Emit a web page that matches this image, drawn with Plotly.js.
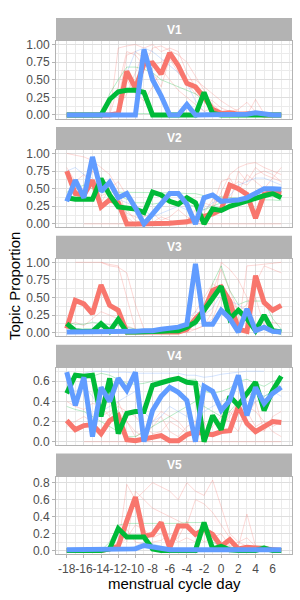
<!DOCTYPE html>
<html><head><meta charset="utf-8">
<script src="https://cdn.plot.ly/plotly-3.0.1.min.js"></script>
<style>html,body{margin:0;padding:0;background:#fff;} #chart{width:300px;height:600px;}</style>
</head><body><div id="chart"></div>
<script>
const days = [-18,-17,-16,-15,-14,-13,-12,-11,-10,-9,-8,-7,-6,-5,-4,-3,-2,-1,0,1,2,3,4,5,6,7];
const xTickVals = [-18,-16,-14,-12,-10,-8,-6,-4,-2,0,2,4,6];
const xTickText = ["-18","-16","-14","-12","-10","-8","-6","-4","-2","0","2","4","6"];
const panelNames = ["V1","V2","V3","V4","V5"];
const xTitle = "menstrual cycle day";
const yTitle = "Topic Proportion";

// ---- V1 ----
const V1_red   = [0,0,0,0,0,0,0.02,0.62,0.38,0.72,0.74,0.58,0.88,0.7,0.45,0.4,0.25,0.08,0.02,0.03,0.01,0.02,0.02,0,0,0];
const V1_green = [0,0,0,0,0,0.22,0.33,0.35,0.35,0.32,0,0,0,0,0,0,0.32,0.02,0,0,0,0,0,0.01,0,0];
const V1_blue  = [0,0,0,0,0,0,0,0,0,0.93,0.5,0.27,0,0,0.15,0,0,0,0,0,0,0.01,0.03,0.01,0,0];
const V1_thinRed = [
  [null,null,null,null,null,0,0.95,0.98,1.0,0.95,1.0,0.9,0.95,0.9,0.6,0.4,0.3,0.15,0.05,0.02,0,null,null,null,null,null],
  [null,null,null,null,null,0,0.4,0.9,0.85,0.7,0.95,0.98,0.92,0.85,0.75,0.55,0.35,0.1,0.05,0,0,0,null,null,null,null],
  [null,null,null,null,null,null,0.1,0.3,0.6,0.9,0.6,0.4,0.8,0.6,0.45,0.3,0.25,0.2,0.1,0.05,0.08,0.18,0.05,0,null,null],
  [null,null,null,null,null,null,0.05,0.5,0.3,0.2,0.4,0.65,0.5,0.35,0.25,0.15,0.05,0.1,0.02,0,0,0,0.22,0.02,0,0],
  [null,null,null,null,null,null,0.2,0.85,0.9,0.8,0.7,0.75,0.85,0.65,0.5,0.5,0.4,0.3,0.2,0.12,0.05,0.02,null,null,null,null]
];
const V1_thinGreen = [
  [null,null,null,null,0,0.3,0.5,0.68,0.68,0.65,0.6,0.5,0.45,0.4,0.35,0.3,0.2,0.05,0,null,null,null,null,null,null,null],
  [null,null,null,null,null,null,null,null,0.02,0.02,0.02,0.02,0.02,0,0,0,0,0,0,0,0,0,0,0.02,0.01,0]
];
const V1_thinBlue = [
  [null,null,null,null,null,null,0,0.6,0.9,0.95,0.9,0.8,0.7,0.6,0.45,0.2,0.05,0,null,null,null,null,null,null,null,null]
];

// ---- V2 ----
const V2_red   = [0.75,0.43,0.41,0.62,0.24,0.34,0.3,0,0,0,0,0.01,0.01,0.02,0.03,0.07,0.1,0.14,0.2,0.55,0.5,0.42,0.08,0.42,0.45,0.43];
const V2_green = [0.37,0.35,0.35,0.35,0.64,0.41,0.24,0.23,0.21,0.16,0.45,0.41,0.32,0.28,0.37,0.3,0,0.21,0.19,0.25,0.29,0.32,0.37,0.4,0.43,0.37];
const V2_blue  = [0.32,0.62,0.37,0.95,0.46,0.59,0.37,0.43,0.23,0,0.14,0.28,0.43,0.43,0.28,0,0.37,0.41,0.32,0.33,0.34,0.37,0.43,0.5,0.5,0.49];
const V2_thinRed = [
  [1.0,0.98,0.95,0.9,0.8,0.7,0.5,0.1,0,0,0,0,0,0,0,0.02,0.05,0.2,0.45,0.7,0.8,0.85,0.87,0.8,0.75,0.7],
  [0.4,0.45,0.5,0.75,0.6,0.55,0.35,0.2,0.05,0,0,0,0,0,0.05,0.1,0.3,0.25,0.6,0.65,0.45,0.7,0.6,0.5,0.65,0.8],
  [null,null,0,0,0,0,0,0,0,0,0,0,0,0,0,0,0,0,0,0,0,0,0,0,0,0],
  [null,null,null,null,0.3,0.5,0.6,0.4,0.2,0.1,0.15,0.05,0.1,0.2,0.1,0.05,0.15,0.35,0.3,0.5,0.6,0.55,0.7,0.75,0.7,0.6],
  [0.8,0.6,0.7,0.55,0.4,0.45,0.3,0.15,0.1,0.05,0.02,0.1,0.05,0,0.05,0.2,0.1,0.25,0.4,0.3,0.75,0.6,0.8,0.7,0.65,0.6]
];
const V2_thinGreen = [
  [0.45,0.5,0.55,0.5,0.45,0.45,0.45,0.45,0.45,0.45,0.45,0.45,0.44,0.44,0.43,0.43,0.4,0.4,0.38,0.37,0.36,0.35,0.35,0.34,0.34,0.33],
  [null,null,null,null,0.6,0.55,0.4,0.35,0.3,0.3,0.28,0.3,0.32,0.3,0.28,0.25,0.2,0.25,0.3,0.3,0.32,0.35,0.4,0.42,0.45,0.4]
];
const V2_thinBlue = [
  [0.75,0.8,0.7,0.65,0.5,0.4,0.35,0.3,0.25,0.2,0.1,0.15,0.2,0.25,0.2,0.1,0.2,0.3,0.35,0.4,0.55,0.6,0.65,0.65,0.6,0.55]
];

// ---- V3 ----
const V3_red   = [0.06,0.46,0.41,0.27,0.68,0.39,0.32,0.01,0.01,0.01,0.02,0.02,0.01,0.01,0.05,0.2,0.32,0.6,0.65,0.45,0.05,0.02,0.81,0.43,0.32,0.39];
const V3_green = [0.13,0.03,0.02,0.02,0.13,0.02,0.19,0.01,0.01,0.01,0.02,0.02,0.03,0.03,0.08,0.15,0.32,0.48,0.66,0.2,0.32,0.2,0.03,0.25,0.03,0.01];
const V3_blue  = [0.01,0.01,0.01,0.01,0.01,0.01,0.01,0.02,0.02,0.03,0.03,0.05,0.07,0.08,0.12,0.98,0.12,0.12,0.32,0.2,0.01,0.34,0.03,0.08,0.02,0.01];
const V3_thinRed = [
  [null,1.0,1.0,1.0,1.0,0.97,0.95,0.5,0.05,0,0,0,0,0,0,0.05,0.1,0.3,1.0,0.9,0.75,0.5,0.1,0.05,0.02,0],
  [null,null,null,null,1.0,0.95,0.93,0.85,0.4,0.05,0.02,0.02,0.02,0.02,0.05,0.05,0.1,0.2,0.5,0.3,0.05,0.95,0.96,0.97,0.98,1.0],
  [null,null,null,null,null,null,null,null,0,0,0,0,0.02,0.05,0.1,0.2,0.2,0.6,0.9,0.6,0.3,0.15,0.5,0.1,0.15,0.12],
  [0.1,0.15,0.1,0.2,0.3,0.25,0.2,0.1,0.05,0.02,0.02,0.03,0.05,0.05,0.1,0.3,0.5,0.7,0.6,0.5,0.3,0.4,0.7,0.95,0.9,0.85]
];
const V3_thinGreen = [
  [0.15,0.12,0.12,0.15,0.13,0.12,0.1,0.08,0.05,0.05,0.06,0.07,0.08,0.08,0.1,0.1,0.3,0.7,0.95,0.6,0.4,0.45,0.45,0.45,0.2,0.05]
];
const V3_thinBlue = [
  [null,null,null,null,null,null,null,null,null,null,null,null,null,null,0.2,0.3,0.25,0.35,0.55,0.45,0.4,0.3,0.1,0.05,0.03,0.02]
];

// ---- V4 ----
const V4_red   = [0.21,0.12,0.16,0.17,0.08,0.21,0.26,0.02,0.01,0.03,0.04,0.06,0.01,0.01,0.07,0.1,0.08,0.07,0.1,0.11,0.35,0.18,0.1,0.15,0.2,0.19];
const V4_green = [0.48,0.66,0.65,0.66,0.25,0.63,0.08,0.28,0.3,0.3,0.56,0.59,0.61,0.63,0.59,0.58,0,0.26,0.12,0.45,0.36,0.48,0.59,0.31,0.51,0.65];
const V4_blue  = [0.69,0.36,0.64,0.05,0.54,0.4,0.63,0.51,0.69,0,0.31,0.45,0.54,0.49,0.41,0,0.55,0.5,0.31,0.41,0.66,0.26,0.54,0.38,0.48,0.54];
const V4_thinRed = [
  [null,null,0,0,0,0,0,0,0,0,0,0,0,0,0,0,0,0,0,0,0,0,0,0,0,0],
  [0.4,0.35,0.32,0.38,0.36,0.4,0.3,0.2,0.1,0.05,0.15,0.25,0.1,0.05,0.15,0.2,0.1,0.2,0.15,0.25,0.4,0.3,0.15,0.2,0.1,0.05],
  [null,null,null,null,0.25,0.3,0.35,0.3,0.25,0.15,0.08,0.1,0.2,0.15,0.08,0.12,0.2,0.05,0.1,0.3,0.2,0.25,0.4,0.1,0.25,0.3],
  [0.15,0.2,0.25,0.2,0.35,0.25,0.4,0.2,0.05,0.1,0.2,0.3,0.25,0.2,0.1,0.05,0.08,0.15,0.25,0.2,0.1,0.35,0.3,0.2,0.15,0.2]
];
const V4_thinGreen = [
  [null,null,0.63,0.65,0.68,0.66,0.62,0.58,0.57,0.58,0.6,0.61,0.62,0.62,0.62,0.62,0.5,0.48,0.5,0.53,0.6,0.62,0.58,0.55,0.6,0.62],
  [0.35,0.32,0.3,0.25,0.2,0.15,0.1,0.05,0.05,0.1,0.15,0.2,0.25,0.3,0.35,0.4,0.35,0.3,0.25,0.3,0.4,0.45,0.5,0.45,0.5,0.55]
];
const V4_thinBlue = [
  [null,null,0.68,0.7,0.7,0.69,0.69,0.69,0.68,0.68,0.68,0.68,0.68,0.68,0.66,0.66,0.64,0.65,0.67,0.68,0.69,0.7,0.7,0.7,null,null],
  [0.6,0.5,0.55,0.45,0.3,0.35,0.4,0.45,0.5,0.3,0.2,0.25,0.35,0.3,0.25,0.2,0.3,0.35,0.4,0.45,0.35,0.3,0.4,0.45,0.5,0.45]
];

// ---- V5 ----
const V5_red   = [0,0,0,0,0,0.02,0.05,0.35,0.63,0.17,0.19,0.33,0.03,0.29,0.29,0.19,0.25,0.19,0.05,0.13,0.02,0.04,0.03,0.01,0,0];
const V5_green = [0,0,0,0,0,0.02,0.26,0.16,0.16,0.16,0.02,0,0,0,0,0,0.33,0.02,0.05,0.01,0,0,0,0.03,0,0];
const V5_blue  = [0.01,0.01,0.01,0.01,0.01,0.01,0.01,0.01,0.02,0.06,0.04,0.02,0.01,0.01,0.01,0.01,0.01,0.01,0.02,0.01,0.01,0.01,0.01,0.01,0.01,0.01];
const V5_thinRed = [
  [null,null,null,null,null,null,0.05,0.78,0.6,0.7,0.8,0.75,0.7,0.6,0.8,0.7,0.65,0.83,0.5,0.2,0.1,0.05,0.02,0,null,null],
  [null,null,null,null,null,null,null,0.1,0.7,0.6,0.5,0.45,0.4,0.35,0.3,0.6,0.55,0.45,0.3,0.15,0.05,0.43,0.05,0,null,null],
  [null,null,null,null,null,0,0.05,0.15,0.3,0.25,0.15,0.2,0.1,0.15,0.35,0.2,0.1,0.15,0.2,0.05,0.1,0.15,0.05,0.02,0,null],
  [null,null,null,null,0,0.02,0.1,0.25,0.1,0.08,0.1,0.12,0.2,0.1,0.15,0.1,0.2,0.12,0.08,0.05,0.02,0.02,0.02,0,0,0]
];
const V5_thinGreen = [
  [null,null,null,null,0,0.1,0.3,0.32,0.32,0.32,0.32,0.32,0.32,0.32,0.33,0.33,0.33,0.1,0.05,0.02,0.02,0.03,0.05,0.06,0.02,null]
];
const V5_thinBlue = [
  [null,null,null,null,null,null,0.02,0.03,0.05,0.1,0.08,0.05,0.03,0.02,0.02,0.02,0.02,0.03,0.05,0.02,0.01,0.01,0.01,0.01,null,null]
];

const panels = [
  {mean:[V1_red,V1_green,V1_blue], thin:[V1_thinRed,V1_thinGreen,V1_thinBlue], step:0.25, fmt:'.2f'},
  {mean:[V2_red,V2_green,V2_blue], thin:[V2_thinRed,V2_thinGreen,V2_thinBlue], step:0.25, fmt:'.2f'},
  {mean:[V3_red,V3_green,V3_blue], thin:[V3_thinRed,V3_thinGreen,V3_thinBlue], step:0.25, fmt:'.2f'},
  {mean:[V4_red,V4_green,V4_blue], thin:[V4_thinRed,V4_thinGreen,V4_thinBlue], step:0.2, fmt:'.1f'},
  {mean:[V5_red,V5_green,V5_blue], thin:[V5_thinRed,V5_thinGreen,V5_thinBlue], step:0.2, fmt:'.1f'}
];

const colors = ['#F8766D','#00BA38','#619CFF'];
const thinColors = ['rgba(248,118,109,0.35)','rgba(0,186,56,0.35)','rgba(97,156,255,0.35)'];
const FONT = 'Liberation Sans, Arial, sans-serif';
const W = 300, H = 600;
const plotL = 56, plotR = 292;
const stripTop = [18, 126.9, 235.8, 344.7, 453.6];
const stripH = 23, plotH = 77.5;

const traces = [];
const layout = {
  width: W, height: H,
  margin: {l:0, r:0, t:0, b:0, pad:0},
  paper_bgcolor: '#fff', plot_bgcolor: '#fff',
  showlegend: false,
  font: {family: FONT, color: '#4D4D4D'},
  shapes: [], annotations: []
};

panels.forEach((p, i) => {
  const k = i === 0 ? '' : String(i + 1);
  const xa = 'x' + k, ya = 'y' + k;
  p.thin.forEach((group, c) => {
    group.forEach(vals => {
      traces.push({x: days, y: vals, xaxis: xa, yaxis: ya, type: 'scatter', mode: 'lines',
        line: {color: thinColors[c], width: 0.8}, hoverinfo: 'skip', connectgaps: false});
    });
  });
  p.mean.forEach((vals, c) => {
    traces.push({x: days, y: vals, xaxis: xa, yaxis: ya, type: 'scatter', mode: 'lines',
      line: {color: colors[c], width: 5}, hoverinfo: 'skip'});
  });
  let mx = 0;
  p.mean.forEach(v => v.forEach(d => { if (d !== null && d > mx) mx = d; }));
  p.thin.forEach(g => g.forEach(v => v.forEach(d => { if (d !== null && d > mx) mx = d; })));
  const top = stripTop[i] + stripH, bot = top + plotH;
  layout['xaxis' + k] = {
    domain: [plotL / W, plotR / W], range: [-19.25, 8.25], anchor: ya,
    tickmode: 'array', tickvals: xTickVals, ticktext: xTickText, tickangle: 0,
    showticklabels: i === 4, ticks: i === 4 ? 'outside' : '', ticklen: 3, tickcolor: '#B3B3B3', tickwidth: 1,
    tickfont: {family: FONT, size: 12, color: '#4D4D4D'},
    showgrid: true, gridcolor: '#DEDEDE', gridwidth: 1,
    minor: {tickmode: 'linear', tick0: -19, dtick: 1, showgrid: true, gridcolor: '#EBEBEB', gridwidth: 1, ticks: ''},
    showline: true, mirror: true, linecolor: '#B3B3B3', linewidth: 1, zeroline: false,
    automargin: false, fixedrange: true
  };
  layout['yaxis' + k] = {
    domain: [1 - bot / H, 1 - top / H], range: [-0.05 * mx, 1.05 * mx], anchor: xa,
    tickmode: 'linear', tick0: 0, dtick: p.step, tickformat: p.fmt,
    ticks: 'outside', ticklen: 3, tickcolor: '#B3B3B3', tickwidth: 1,
    tickfont: {family: FONT, size: 12, color: '#4D4D4D'},
    showgrid: true, gridcolor: '#DEDEDE', gridwidth: 1,
    minor: {tickmode: 'linear', tick0: p.step / 2, dtick: p.step, showgrid: true, gridcolor: '#EBEBEB', gridwidth: 1, ticks: ''},
    showline: true, mirror: true, linecolor: '#B3B3B3', linewidth: 1, zeroline: false,
    automargin: false, fixedrange: true
  };
  layout.shapes.push({type: 'rect', xref: 'paper', yref: 'paper',
    x0: plotL / W, x1: plotR / W, y0: 1 - top / H, y1: 1 - stripTop[i] / H,
    fillcolor: '#B3B3B3', line: {width: 0}});
  layout.annotations.push({xref: 'paper', yref: 'paper', x: (plotL + plotR) / 2 / W,
    y: 1 - (stripTop[i] + stripH / 2) / H, text: '<b>' + panelNames[i] + '</b>', showarrow: false,
    xanchor: 'center', yanchor: 'middle', font: {family: FONT, size: 12, color: '#FFFFFF'}});
});

layout.annotations.push({xref: 'paper', yref: 'paper', x: (plotL + plotR) / 2 / W, y: 1 - 583 / H,
  text: xTitle, showarrow: false, xanchor: 'center', yanchor: 'middle',
  font: {family: FONT, size: 15, color: '#000000'}});
layout.annotations.push({xref: 'paper', yref: 'paper', x: 14 / W, y: 1 - 286 / H,
  text: yTitle, showarrow: false, xanchor: 'center', yanchor: 'middle', textangle: -90,
  font: {family: FONT, size: 15, color: '#000000'}});

Plotly.newPlot('chart', traces, layout, {staticPlot: true, displayModeBar: false});
</script>
</body></html>
